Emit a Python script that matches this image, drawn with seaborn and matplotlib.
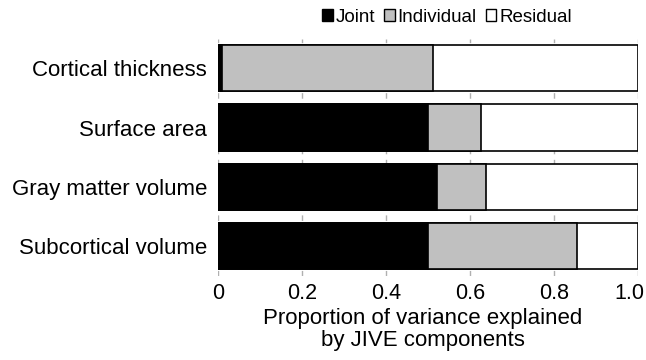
import matplotlib
matplotlib.use("Agg")
import matplotlib.pyplot as plt
import matplotlib.transforms as mtransforms
import seaborn as sns
import pandas as pd
import numpy as np
from matplotlib.patches import Patch

categories = ["Cortical thickness", "Surface area", "Gray matter volume", "Subcortical volume"]
joint = [0.01, 0.50, 0.522, 0.50]
individual = [0.502, 0.125, 0.116, 0.355]
residual = [1 - j - i for j, i in zip(joint, individual)]
xticks = [0, 0.2, 0.4, 0.6, 0.8, 1.0]
xticklabels = ["0", "0.2", "0.4", "0.6", "0.8", "1.0"]

sns.set_theme(style="white")
plt.rcParams['font.family'] = ['Liberation Sans', 'DejaVu Sans']
plt.rcParams['text.color'] = 'black'
plt.rcParams['xtick.color'] = 'black'
plt.rcParams['ytick.color'] = 'black'
plt.rcParams['axes.labelcolor'] = 'black'

df = pd.DataFrame({
    "cat": categories,
    "joint": joint,
    "ji": [j + i for j, i in zip(joint, individual)],
    "total": [j + i + r for j, i, r in zip(joint, individual, residual)],
})

fig = plt.figure(figsize=(6.46, 3.6), dpi=100)
ax = fig.add_axes([0.3375, 0.2344, 0.6501, 0.6581])

ax.set_axisbelow(True)
for xv in xticks:
    ax.axvline(xv, color="#b0b0b0", lw=1, ls=(0, (4, 4)), zorder=0)

sns.barplot(data=df, x="total", y="cat", orient="h", color="white", edgecolor="black",
            linewidth=1.2, width=0.78, ax=ax, zorder=2)
sns.barplot(data=df, x="ji", y="cat", orient="h", color="#c0c0c0", edgecolor="black",
            linewidth=1.2, width=0.78, ax=ax, zorder=3)
sns.barplot(data=df, x="joint", y="cat", orient="h", color="black", edgecolor="black",
            linewidth=1.2, width=0.78, ax=ax, zorder=4)

ax.set_xlim(0, 1.0)
ax.set_ylim(3.5, -0.5)
ax.set_xticks(xticks)
ax.set_xticklabels(xticklabels, fontsize=15.5)
ax.tick_params(axis="y", labelsize=16, length=0, pad=8)
ax.tick_params(axis="x", length=0, pad=5)
last = ax.xaxis.get_major_ticks()[-1].label1
last.set_transform(last.get_transform() +
                   mtransforms.ScaledTranslation(-9 / 100, 0, fig.dpi_scale_trans))
ax.set_ylabel("")
ax.set_xlabel("Proportion of variance explained\nby JIVE components", fontsize=16,
              labelpad=3, linespacing=1.1)
ax.xaxis.set_label_coords(0.4875, -0.135)
ax.xaxis.label.set_verticalalignment("top")
for s in ax.spines.values():
    s.set_visible(False)

handles = [
    Patch(facecolor="black", edgecolor="black", label="Joint"),
    Patch(facecolor="#c0c0c0", edgecolor="black", label="Individual"),
    Patch(facecolor="white", edgecolor="black", label="Residual"),
]
fig.legend(handles=handles, loc="center", bbox_to_anchor=(447 / 646, 1 - 17 / 360), ncol=3,
           frameon=False, fontsize=13.5, handlelength=0.55, handleheight=0.55,
           handletextpad=0.15, columnspacing=0.5, borderaxespad=0)

fig.savefig("out.png", dpi=100)
